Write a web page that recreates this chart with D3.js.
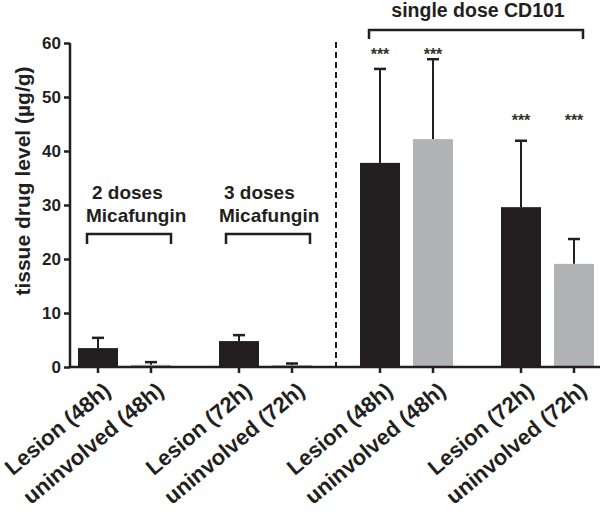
<!DOCTYPE html>
<html><head><meta charset="utf-8">
<script src="https://cdn.jsdelivr.net/npm/d3@7"></script>
<style>body{margin:0;background:#fff}svg{display:block;font-family:"Liberation Sans",Arial,sans-serif}</style>
</head><body><svg id="c" width="600" height="518"></svg>
<script>
const groups = ["mica48", "mica72", "cd48", "cd72"];
const types = ["Lesion", "uninvolved"];
const hours = ["48h", "72h", "48h", "72h"];
const means = [[3.5, 0.4], [4.8, 0.35], [37.8, 42.2], [29.6, 19.1]];
const errs = [[5.4, 0.9], [5.9, 0.65], [55.2, 57.0], [41.9, 23.7]];
const stars = [[null, null], [null, null], ["***", "***"], ["***", "***"]];
const yTicks = [0, 10, 20, 30, 40, 50, 60];
const colors = {Lesion: "#231f20", uninvolved: "#b2b3b5"};

const svg = d3.select("#c");
const y = d3.scaleLinear().domain([0, 60]).range([367, 43]);
const gx = d3.scaleBand().domain(groups).range([54, 618]).padding(0);
const ix = d3.scaleBand().domain(types).range([24, 117]).paddingInner(13/53).paddingOuter(0);

const data = [];
groups.forEach((g, gi) => types.forEach((t, ti) => data.push({
  g, t, v: means[gi][ti], e: errs[gi][ti], s: stars[gi][ti],
  label: t + " (" + hours[gi] + ")",
  x: gx(g) + ix(t), cx: gx(g) + ix(t) + ix.bandwidth() / 2
})));

// bars
svg.selectAll("rect.bar").data(data).join("rect")
  .attr("x", d => d.x).attr("width", ix.bandwidth())
  .attr("y", d => y(d.v)).attr("height", d => y(0) - y(d.v))
  .attr("fill", d => colors[d.t]);

// error bars
const eb = svg.append("g").attr("stroke", "#231f20").attr("stroke-width", 2);
data.forEach(d => {
  eb.append("line").attr("x1", d.cx).attr("x2", d.cx).attr("y1", y(d.v)).attr("y2", y(d.e));
  eb.append("line").attr("x1", d.cx - 6).attr("x2", d.cx + 6).attr("y1", y(d.e)).attr("y2", y(d.e)).attr("stroke-width", 2.5);
});

// stars
svg.selectAll("text.star").data(data.filter(d => d.s)).join("text")
  .attr("x", d => d.cx).attr("y", d => d.g === "cd48" ? 60 : 126)
  .attr("text-anchor", "middle").attr("font-size", 16).attr("font-weight", "bold")
  .attr("fill", "#333").text(d => d.s);

// y axis
const ya = svg.append("g").attr("transform", "translate(70,0)")
  .call(d3.axisLeft(y).tickValues(yTicks).tickSize(6).tickPadding(3));
ya.select(".domain").attr("stroke", "#231f20").attr("stroke-width", 2.5).attr("d", "M0,43V367");
ya.selectAll(".tick line").attr("stroke", "#231f20").attr("stroke-width", 2.5);
ya.selectAll(".tick text").attr("font-size", 17).attr("font-weight", "bold").attr("fill", "#231f20")
  .attr("font-family", "Liberation Sans, Arial, sans-serif");

// x axis line
svg.append("line").attr("x1", 69).attr("x2", 600).attr("y1", 367).attr("y2", 367)
  .attr("stroke", "#231f20").attr("stroke-width", 2.5);
svg.selectAll("line.xt").data(data).join("line")
  .attr("x1", d => d.cx).attr("x2", d => d.cx).attr("y1", 367).attr("y2", 373)
  .attr("stroke", "#231f20").attr("stroke-width", 2.5);
svg.selectAll("text.xl").data(data).join("text")
  .attr("transform", d => `translate(${d.cx + 14},${393}) rotate(-40)`)
  .attr("text-anchor", "end").attr("font-size", 22).attr("font-weight", "bold")
  .attr("fill", "#231f20").text(d => d.label);

// dashed divider
svg.append("line").attr("x1", 336).attr("x2", 336).attr("y1", 42).attr("y2", 367)
  .attr("stroke", "#231f20").attr("stroke-width", 2).attr("stroke-dasharray", "6,4");

// y label
svg.append("text").attr("transform", "translate(30,181) rotate(-90)")
  .attr("text-anchor", "middle").attr("font-size", 21).attr("font-weight", "bold")
  .attr("fill", "#231f20").text("tissue drug level (µg/g)");

// brackets
function bracket(x1, x2, yt, drop) {
  svg.append("path").attr("d", `M${x1},${yt + drop}V${yt}H${x2}V${yt + drop}`)
    .attr("fill", "none").attr("stroke", "#231f20").attr("stroke-width", 2.5);
}
bracket(gx("mica48") + ix("Lesion") + 9, gx("mica48") + ix("uninvolved") + ix.bandwidth(), 234, 10);
bracket(gx("mica72") + ix("Lesion") + 7, gx("mica72") + ix("uninvolved") + ix.bandwidth() - 2, 234, 10);
bracket(gx("cd48") + ix("Lesion") + 9, gx("cd72") + ix("uninvolved") + ix.bandwidth() - 11, 30, 9);

const lab = svg.append("g").attr("font-size", 19).attr("font-weight", "bold").attr("fill", "#231f20");
lab.append("text").attr("x", 92).attr("y", 199).text("2 doses");
lab.append("text").attr("x", 86).attr("y", 222).text("Micafungin");
lab.append("text").attr("x", 224).attr("y", 199).text("3 doses");
lab.append("text").attr("x", 219).attr("y", 222).text("Micafungin");
svg.append("text").attr("x", 478).attr("y", 17).attr("text-anchor", "middle")
  .attr("font-size", 19.5).attr("font-weight", "bold").attr("fill", "#231f20").text("single dose CD101");
</script></body></html>
